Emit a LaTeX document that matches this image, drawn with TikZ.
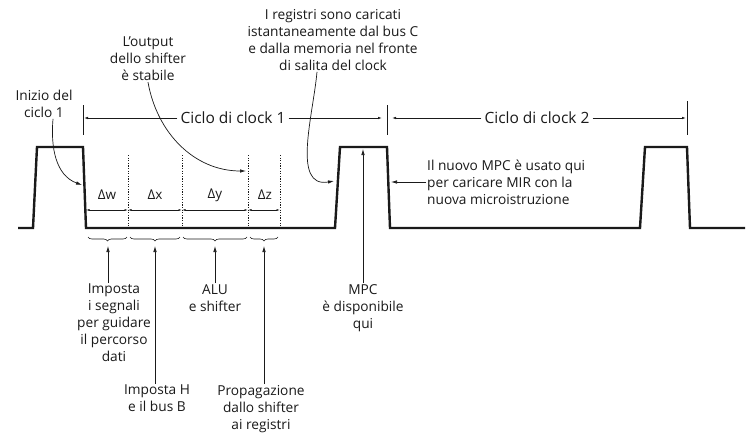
\documentclass[tikz,border=0pt]{standalone}
\usepackage{fontspec}
\setmainfont{Open Sans}
\usepackage{tikz}
\usetikzlibrary{arrows.meta,positioning,decorations.pathreplacing,calc}
\definecolor{ink}{HTML}{1A1A1A}
\definecolor{paper}{HTML}{FFFFFF}
\tikzset{
  note/.style={align=center,text=ink,inner sep=1pt,
               font=\fontsize{13.7}{17}\selectfont},
  leftnote/.style={note,align=left},
  cyclelabel/.style={fill=paper,text=ink,inner sep=3pt,
                     font=\fontsize{15.5}{18}\selectfont},
  deltalabel/.style={text=ink,inner sep=1pt,font=\fontsize{13.5}{16}\selectfont},
  clockline/.style={draw=ink,line width=2.4pt,line join=miter},
  tickline/.style={draw=ink,line width=0.6pt},
  phaseline/.style={draw=ink,line width=0.6pt,dash pattern=on 1.2pt off 1.4pt},
  dimarr/.style={{Latex[length=3.5pt,width=2pt]}-{Latex[length=3.5pt,width=2pt]},
                 draw=ink,line width=0.6pt},
  cyclearr/.style={-{Latex[length=4pt,width=2.5pt]},draw=ink,line width=0.7pt},
  callout/.style={-{Latex[length=6pt,width=3.5pt]},draw=ink,line width=0.7pt},
  phasebrace/.style={decorate,decoration={brace,mirror,amplitude=4pt},
                     draw=ink,line width=0.6pt}
}

\begin{document}
\begin{tikzpicture}[x=1pt,y=-1pt]
  \useasboundingbox[fill=paper] (0,0) rectangle (748,439);

  % Clock signal
  \draw[clockline] (18,228) -- (33,228) -- (37,147) -- (83,147) -- (86,228)
    -- (335,228) -- (340,147) -- (387,147) -- (390,228)
    -- (640,228) -- (645,147) -- (687,147) -- (690,228) -- (745,228);

  % Cycle boundaries
  \coordinate (t0) at (83,118);
  \coordinate (t1) at (387,118);
  \coordinate (t2) at (687,118);
  \draw[tickline] (83,105) -- (83,135);
  \draw[tickline] (387,105) -- (387,135);
  \draw[tickline] (687,101) -- (687,135);

  \node[cyclelabel] (cyc1) at (233,118) {Ciclo di clock 1};
  \node[cyclelabel] (cyc2) at (537,118) {Ciclo di clock 2};
  \draw[cyclearr] (cyc1.west) -- ($(t0)+(1,0)$);
  \draw[cyclearr] (cyc1.east) -- ($(t1)+(-5,0)$);
  \draw[cyclearr] (cyc2.west) -- ($(t1)+(5,0)$);
  \draw[cyclearr] (cyc2.east) -- ($(t2)+(-1,0)$);

  % Sub-intervals of the data path cycle
  \foreach \x in {128,182,248,280}
    \draw[phaseline] (\x,155) -- (\x,227);
  \foreach \a/\b in {86/128,128/182,182/248,248/280}
    \draw[dimarr] (\a,210) -- (\b,210);

  \node[deltalabel] (dw) at (107,195) {Δw};
  \node[deltalabel] (dx) at (155,195) {Δx};
  \node[deltalabel] (dy) at (215,195) {Δy};
  \node[deltalabel] (dz) at (265,195) {Δz};

  % Braces under the sub-intervals
  \draw[phasebrace] (88,237) -- (127,237);
  \draw[phasebrace] (130,237) -- (180,237);
  \draw[phasebrace] (183,237) -- (247,237);
  \draw[phasebrace] (250,237) -- (278,237);
  \coordinate (bw) at (108,246);
  \coordinate (bx) at (155,246);
  \coordinate (by) at (215,246);
  \coordinate (bz) at (264,246);

  % Labels below
  \node[note,anchor=north] (setsig) at (114,283)
    {Imposta\\i segnali\\per guidare\\il percorso\\dati};
  \node[note,anchor=north] (seth) at (157,384) {Imposta H\\e il bus B};
  \node[note,anchor=north] (alu) at (215,283) {ALU\\e shifter};
  \node[note,anchor=north] (prop) at (261,384)
    {Propagazione\\dallo shifter\\ai registri};
  \node[note,anchor=north] (mpcok) at (363,283) {MPC\\è disponibile\\qui};

  \draw[callout] (setsig.north -| bw) -- (bw);
  \draw[callout] (seth.north -| bx) -- (bx);
  \draw[callout] (alu.north -| by) -- (by);
  \draw[callout] (prop.north -| bz) -- (bz);
  \coordinate (mpctop) at (363,149);
  \draw[callout] (mpcok.north -| mpctop) -- (mpctop);

  % Labels above
  \node[note] (start) at (44,104) {Inizio del\\ciclo 1};
  \node[note] (stable) at (148,59) {L'output\\dello shifter\\è stabile};
  \node[note] (loaded) at (333,40)
    {I registri sono caricati\\istantaneamente dal bus C\\e dalla memoria nel fronte\\di salita del clock};
  \node[leftnote,anchor=west] (newmpc) at (426,182)
    {Il nuovo MPC è usato qui\\per caricare MIR con la\\nuova microistruzione};

  \coordinate (edge0) at (82,185);
  \coordinate (edgey) at (246,171);
  \coordinate (edge1) at (334,181);
  \coordinate (edge2) at (391,182);
  \draw[callout] ($(start.south)+(9,0)$) to[out=-95,in=160] (edge0);
  \draw[callout] (stable.south) to[out=-80,in=180] (edgey);
  \draw[callout] ($(loaded.south)+(-16,0)$) to[out=-95,in=190] (edge1);
  \draw[callout] (newmpc.west) -- (edge2);
\end{tikzpicture}
\end{document}
